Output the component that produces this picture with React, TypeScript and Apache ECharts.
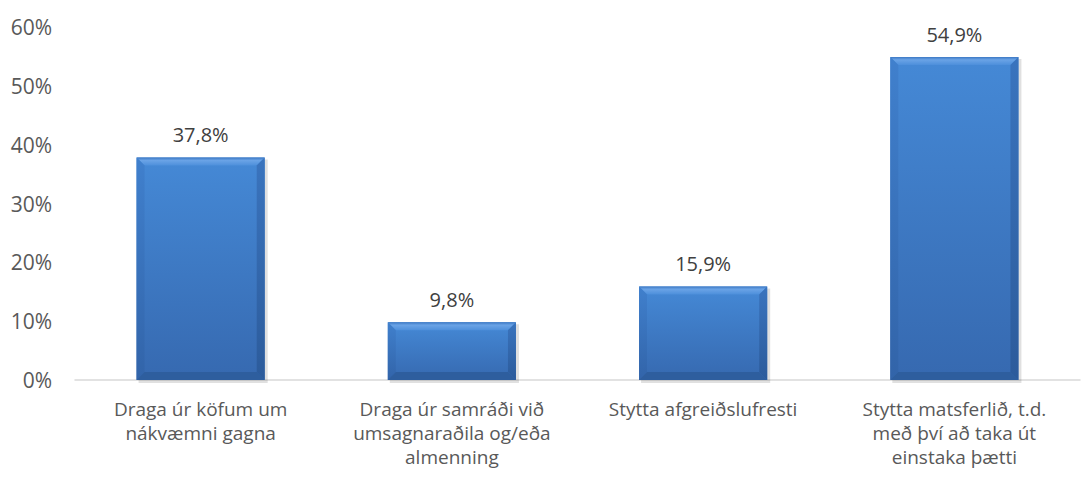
import React, { useEffect, useRef } from "react";
import * as echarts from "echarts";

const categories = [
  "Draga úr köfum um\nnákvæmni gagna",
  "Draga úr samráði við\numsagnaraðila og/eða\nalmenning",
  "Stytta afgreiðslufresti",
  "Stytta matsferlið, t.d.\nmeð því að taka út\neinstaka þætti",
];
const values = [37.8, 9.8, 15.9, 54.9];
const yTicks = [0, 10, 20, 30, 40, 50, 60];

const FONT = "Open Sans";

export default function App() {
  const ref = useRef<HTMLDivElement>(null);
  useEffect(() => {
    document.body.style.margin = "0";
    const chart = echarts.init(ref.current!, undefined, { renderer: "svg" });
    const option: any = {
      animation: false,
      backgroundColor: "#ffffff",
      grid: { left: 75, right: 2, top: 27, bottom: 100 },
      xAxis: {
        type: "category",
        data: categories,
        axisLine: { lineStyle: { color: "#d9d9d9", width: 1.5 } },
        axisTick: { show: false },
        axisLabel: {
          interval: 0,
          color: "#595959",
          fontFamily: FONT,
          fontSize: 19,
          lineHeight: 24,
          margin: 17,
        },
      },
      yAxis: {
        type: "value",
        min: yTicks[0],
        max: yTicks[yTicks.length - 1],
        interval: 10,
        splitLine: { show: false },
        axisLine: { show: false },
        axisTick: { show: false },
        axisLabel: {
          color: "#595959",
          fontFamily: FONT,
          fontSize: 21,
          margin: 23,
          formatter: (v: number) => `${v}%`,
        },
      },
      series: [
        {
          type: "custom",
          data: values.map((v, i) => [i, v]),
          renderItem: (params: any, api: any) => {
            const idx = api.value(0);
            const v = api.value(1);
            const top = api.coord([idx, v]);
            const base = api.coord([idx, 0]);
            const bw = api.size([1, 0])[0] * 0.51;
            const x0 = top[0] - bw / 2;
            const x1 = top[0] + bw / 2;
            const y0 = top[1];
            const y1 = base[1];
            const b = Math.min(8, (y1 - y0) / 2);
            const label = v.toFixed(1).replace(".", ",") + "%";
            return {
              type: "group",
              children: [
                {
                  type: "rect",
                  shape: { x: x0 + 2, y: y0 + 2, width: bw + 1, height: y1 - y0 + 1 },
                  style: { fill: "rgba(0,0,0,0.12)" },
                },
                {
                  type: "rect",
                  shape: { x: x0, y: y0, width: bw, height: y1 - y0 },
                  style: {
                    fill: new echarts.graphic.LinearGradient(0, 0, 0, 1, [
                      { offset: 0, color: "#4589d6" },
                      { offset: 1, color: "#3669b0" },
                    ]),
                  },
                },
                {
                  type: "polygon",
                  shape: { points: [[x0, y0], [x1, y0], [x1 - b, y0 + b], [x0 + b, y0 + b]] },
                  style: {
                    fill: new echarts.graphic.LinearGradient(0, 0, 0, 1, [
                      { offset: 0, color: "#3c78c4" },
                      { offset: 0.35, color: "#6aa3e6" },
                      { offset: 1, color: "#4d8fdb" },
                    ]),
                  },
                },
                {
                  type: "polygon",
                  shape: { points: [[x0, y0], [x0 + b, y0 + b], [x0 + b, y1 - b], [x0, y1]] },
                  style: {
                    fill: new echarts.graphic.LinearGradient(0, 0, 0, 1, [
                      { offset: 0, color: "#4080cd" },
                      { offset: 1, color: "#3264a9" },
                    ]),
                  },
                },
                {
                  type: "polygon",
                  shape: { points: [[x1, y0], [x1, y1], [x1 - b, y1 - b], [x1 - b, y0 + b]] },
                  style: {
                    fill: new echarts.graphic.LinearGradient(0, 0, 0, 1, [
                      { offset: 0, color: "#3a74be" },
                      { offset: 1, color: "#2c5b9b" },
                    ]),
                  },
                },
                {
                  type: "polygon",
                  shape: { points: [[x0, y1], [x0 + b, y1 - b], [x1 - b, y1 - b], [x1, y1]] },
                  style: { fill: "#2e5e9e" },
                },
                {
                  type: "text",
                  x: top[0],
                  y: y0 - 13,
                  style: {
                    text: label,
                    fill: "#404040",
                    font: `20px "${FONT}"`,
                    align: "center",
                    verticalAlign: "bottom",
                  },
                },
              ],
            };
          },
        },
      ],
    };
    chart.setOption(option);
    return () => chart.dispose();
  }, []);
  return <div ref={ref} style={{ width: 1082, height: 480 }} />;
}
